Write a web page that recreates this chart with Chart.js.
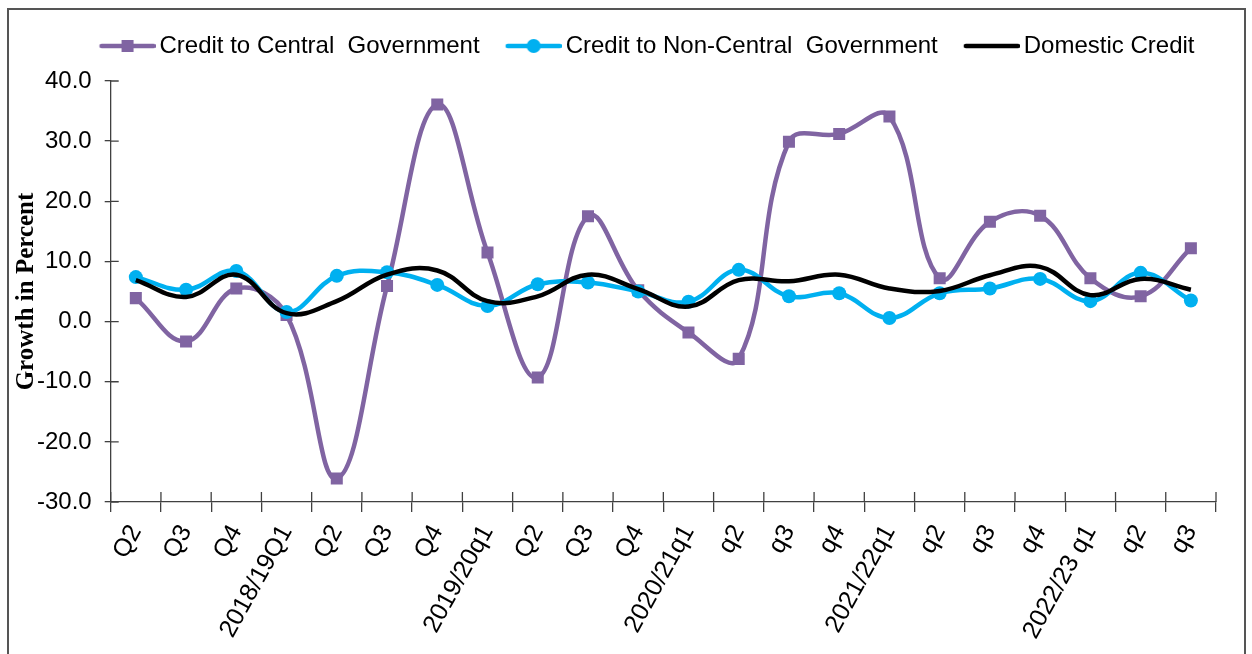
<!DOCTYPE html>
<html>
<head>
<meta charset="utf-8">
<script src="https://cdn.jsdelivr.net/npm/chart.js@4.4.1/dist/chart.umd.min.js"></script>
<style>
    body { margin: 0; background: #fff; overflow: hidden; }
    #frame { position: absolute; left: 7px; top: 8px; width: 1235px; height: 700px; border: 2px solid #555; }
    #chart { position: absolute; left: 0; top: 0; }
</style>
</head>
<body>
<div id="frame"></div>
<canvas id="chart" width="1252" height="654"></canvas>
<script>
// quarters on the x axis
const quarters = ['Q2', 'Q3', 'Q4', '2018/19Q1', 'Q2', 'Q3', 'Q4', '2019/20q1', 'Q2', 'Q3', 'Q4', '2020/21q1',
    'q2', 'q3', 'q4', '2021/22q1', 'q2', 'q3', 'q4', '2022/23 q1', 'q2', 'q3'];

// growth in percent
const centralGov = [3.9, -3.3, 5.5, 1.1, -26.1, 5.9, 36.1, 11.5, -9.3, 17.5, 5.2, -1.8,
    -6.2, 29.9, 31.2, 34.1, 7.2, 16.6, 17.6, 7.2, 4.2, 12.2];
const nonCentralGov = [7.4, 5.3, 8.4, 1.6, 7.6, 8.2, 6.1, 2.6, 6.2, 6.5, 5.0, 3.3,
    8.6, 4.2, 4.7, 0.6, 4.7, 5.5, 7.1, 3.4, 8.1, 3.5];
const domesticCredit = [6.9, 4.1, 7.8, 1.4, 3.4, 7.8, 8.5, 3.4, 4.2, 7.8, 5.4, 2.5,
    6.9, 6.7, 7.8, 5.5, 5.1, 7.7, 9.1, 4.4, 7.1, 5.3];

// y axis range
const yMin = -30, yMax = 40, yStep = 10;

const purple = '#8064A2';
const cyan = '#00B0F0';
const axisColor = '#404040';
const sans = "'Liberation Sans', Arial, sans-serif";

// little line + marker pictures for the legend
function legendIcon(color, marker) {
    const c = document.createElement('canvas');
    c.width = 62;
    c.height = 18;
    const ctx = c.getContext('2d');
    ctx.strokeStyle = color;
    ctx.lineWidth = 4.5;
    ctx.lineCap = 'round';
    ctx.beginPath();
    ctx.moveTo(8, 9);
    ctx.lineTo(60, 9);
    ctx.stroke();
    ctx.fillStyle = color;
    if (marker === 'rect') {
        ctx.fillRect(28, 3, 12, 12);
    } else if (marker === 'circle') {
        ctx.beginPath();
        ctx.arc(34, 9, 7, 0, Math.PI * 2);
        ctx.fill();
    }
    return c;
}

// ticks that cross the axis line (Chart.js only draws the outer half)
const innerTicks = {
    id: 'innerTicks',
    afterDatasetsDraw(chart) {
        const { ctx, chartArea, scales } = chart;
        ctx.save();
        ctx.strokeStyle = axisColor;
        ctx.lineWidth = 1.3;
        ctx.beginPath();
        scales.y.ticks.forEach(t => {
            const y = scales.y.getPixelForValue(t.value);
            ctx.moveTo(chartArea.left, y);
            ctx.lineTo(chartArea.left + 8, y);
        });
        const half = (scales.x.getPixelForValue(1) - scales.x.getPixelForValue(0)) / 2;
        for (let i = 0; i <= quarters.length; i++) {
            const x = scales.x.getPixelForValue(i) - half;
            ctx.moveTo(x, chartArea.bottom);
            ctx.lineTo(x, chartArea.bottom - 10);
        }
        ctx.stroke();
        ctx.restore();
    }
};

// nudge the legend up and to the right, like the original
const legendShift = {
    id: 'legendShift',
    afterLayout(chart) {
        const lg = chart.legend;
        lg.top -= 13;
        lg.bottom -= 13;
        lg.left += 40;
        lg.right += 40;
    }
};

new Chart(document.querySelector('#chart').getContext('2d'), {
    type: 'line',
    data: {
        labels: quarters,
        datasets: [{
            label: 'Credit to Central  Government',
            data: centralGov,
            borderColor: purple,
            backgroundColor: purple,
            borderWidth: 4.5,
            pointStyle: 'rect',
            pointRadius: 8.5,
            pointBorderWidth: 0,
            tension: 0.4,
            order: 3
        }, {
            label: 'Credit to Non-Central  Government',
            data: nonCentralGov,
            borderColor: cyan,
            backgroundColor: cyan,
            borderWidth: 4.5,
            pointStyle: 'circle',
            pointRadius: 7,
            pointBorderWidth: 0,
            tension: 0.4,
            order: 2
        }, {
            label: 'Domestic Credit',
            data: domesticCredit,
            borderColor: '#000',
            backgroundColor: '#000',
            borderWidth: 4.5,
            pointRadius: 0,
            tension: 0.4,
            order: 1
        }]
    },
    options: {
        responsive: false,
        animation: false,
        layout: { padding: { left: 0, right: 36, top: 19, bottom: 2 } },
        plugins: {
            tooltip: { enabled: false },
            legend: {
                position: 'top',
                labels: {
                    usePointStyle: true,
                    pointStyleWidth: 46,
                    padding: 28,
                    color: '#000',
                    font: { family: sans, size: 24 },
                    generateLabels(chart) {
                        const icons = [legendIcon(purple, 'rect'), legendIcon(cyan, 'circle'), legendIcon('#000', null)];
                        return chart.data.datasets.map((ds, i) => ({
                            text: ds.label,
                            pointStyle: icons[i],
                            fillStyle: ds.borderColor,
                            strokeStyle: ds.borderColor,
                            lineWidth: 0,
                            hidden: false,
                            datasetIndex: i
                        }));
                    }
                }
            }
        },
        scales: {
            x: {
                offset: true,
                grid: { offset: true, drawOnChartArea: false, tickLength: 10, color: axisColor, lineWidth: 1.3 },
                border: { color: axisColor, width: 1.3 },
                ticks: {
                    minRotation: 61,
                    maxRotation: 61,
                    autoSkip: false,
                    padding: 8,
                    color: '#000',
                    font: { family: sans, size: 25 }
                }
            },
            y: {
                min: yMin,
                max: yMax,
                grid: { drawOnChartArea: false, tickLength: 6, color: axisColor, lineWidth: 1.3 },
                border: { color: axisColor, width: 1.3 },
                ticks: {
                    stepSize: yStep,
                    padding: 13,
                    color: '#000',
                    font: { family: sans, size: 24 },
                    callback: value => value.toFixed(1)
                },
                title: {
                    display: true,
                    text: 'Growth in Percent',
                    color: '#000',
                    padding: { top: 12, bottom: -18 },
                    font: { family: "'Liberation Serif', 'Times New Roman', serif", size: 25, weight: 'bold' }
                }
            }
        }
    },
    plugins: [innerTicks, legendShift]
});
</script>
</body>
</html>
